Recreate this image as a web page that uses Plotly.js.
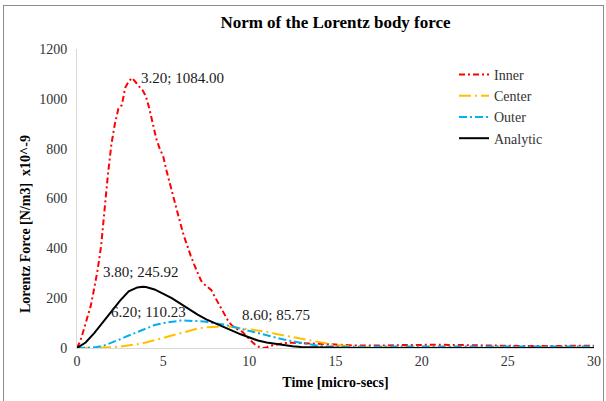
<!DOCTYPE html>
<html>
<head>
<meta charset="utf-8">
<script src="https://cdn.plot.ly/plotly-3.0.1.min.js"></script>
<style>
  html, body { margin: 0; padding: 0; background: #fff; }
  #wrap { position: relative; width: 606px; height: 401px; overflow: hidden; }
  #chart { width: 606px; height: 401px; }
  #frame { position: absolute; left: 3px; top: 5px; width: 601px; height: 400px; border: 1px solid #8c8c8c; pointer-events: none; box-sizing: border-box; }
</style>
</head>
<body>
<div id="wrap"><div id="chart"></div><div id="frame"></div></div>
<script>
// ---- data ----
const innerX = [0,0.2,0.4,0.6,0.8,1.0,1.2,1.4,1.6,1.8,2.0,2.2,2.4,2.6,2.8,3.0,3.2,3.4,3.6,3.8,4.0,4.2,4.4,4.6,4.8,5.0,5.2,5.4,5.6,5.8,6.0,6.2,6.4,6.6,6.8,7.0,7.2,7.4,7.6,7.8,8.0,8.2,8.4,8.6,8.8,9.0,9.2,9.4,9.6,9.8,10.0,10.2,10.4,10.6,10.8,11.0,11.2,11.6,12.0,12.5,13.0,13.5,14.0,14.5,15,16,17,18,19,20,21,22,23,24,25,26,27,28,29,30];
const innerY = [0,30,75,120,170,240,315,410,560,700,820,900,960,975,1045,1070,1084,1065,1050,1035,1010,960,905,840,800,770,710,655,600,545,500,450,405,370,335,300,270,255,245,232,205,180,150,125,105,90,79,72,65,50,35,22,10,3,0,2,8,15,20,21,20,20,18,16,14,10,9,10,12,14,13,12,12,10,9,8,8,9,10,9];

const centerX = [0,1,1.5,2,2.5,3,3.5,4,4.5,5,5.5,6,6.5,7,7.5,8,8.6,9,9.5,10,10.5,11,11.5,12,12.5,13,13.5,14,14.5,15,15.5,16,17,18,20,25,30];
const centerY = [0,0,1,3,6,10,15,22,30,40,50,60,70,78,83,85,85.75,84,80,76,71,65,57,50,43,36,30,24,18,13,9,6,4,3,2,2,2];

const outerX = [0,0.5,1,1.5,2,2.5,3,3.5,4,4.5,5,5.5,6,6.2,6.5,7,7.5,8,8.5,9,9.5,10,10.5,11,11.5,12,12.5,13,13.5,14,14.5,15,16,18,20,22,24,26,28,30];
const outerY = [0,0,2,8,20,35,50,63,78,92,100,106,110,110.23,110,108,105,100,94,86,77,70,60,51,41,34,27,20,14,9,6,5,5,6,6,5,6,6,5,6];

const analyticX = [0,0.5,1,1.5,2,2.5,3,3.5,3.8,4,4.5,5,5.5,6,6.5,7,7.5,8,8.5,9,9.5,10,10.5,11,11.5,12,12.5,13,14,15,16,20,25,30];
const analyticY = [0,22,60,103,145,190,227,243,245.92,245,235,218,200,178,155,134,115,99,84,70,55,41,30,22,16,11,7,4,2,0.5,0,0,0,0];

const seriesNames = ["Inner","Center","Outer","Analytic"];
const peakLabels = [
  {x:3.2, y:1084.00, text:"3.20; 1084.00"},
  {x:3.8, y:245.92, text:"3.80; 245.92"},
  {x:6.2, y:110.23, text:"6.20; 110.23"},
  {x:8.6, y:85.75, text:"8.60; 85.75"}
];
const xTicks = [0,5,10,15,20,25,30];
const yTicks = [0,200,400,600,800,1000,1200];

// ---- chart ----
const serif = "'Liberation Serif', 'Times New Roman', serif";
const traces = [
  {x: innerX, y: innerY, name: seriesNames[0], mode: "lines",
   line: {color: "#ff0000", width: 2, dash: "6px,3px,2px,3px"}},
  {x: centerX, y: centerY, name: seriesNames[1], mode: "lines",
   line: {color: "#ffc000", width: 2, dash: "12px,4px,2px,4px"}},
  {x: outerX, y: outerY, name: seriesNames[2], mode: "lines",
   line: {color: "#00b0f0", width: 2, dash: "8px,3px,2px,3px"}},
  {x: analyticX, y: analyticY, name: seriesNames[3], mode: "lines",
   line: {color: "#000000", width: 2}}
];

const M = {l: 77, r: 12, t: 49, b: 53};
const W = 606, H = 401;
const pw = W - M.l - M.r, ph = H - M.t - M.b;

const shifts = [
  {xanchor: "left", xshift: 7, yshift: 0},
  {xanchor: "center", xshift: -2, yshift: 15},
  {xanchor: "right", xshift: 4, yshift: 9},
  {xanchor: "left", xshift: 15, yshift: 12}
];
const annotations = peakLabels.map((p, i) => ({
  x: p.x, y: p.y, xref: "x", yref: "y", text: p.text, showarrow: false,
  xanchor: shifts[i].xanchor, yanchor: "middle",
  xshift: shifts[i].xshift, yshift: shifts[i].yshift,
  font: {family: serif, size: 15, color: "#1a1a1a"}
}));
annotations.push({
  xref: "paper", yref: "paper",
  x: (25 - M.l) / pw, y: (H - M.b - 224) / ph,
  text: "<b>Lorentz Force [N/m3]  x10^-9</b>", textangle: -90, showarrow: false,
  xanchor: "center", yanchor: "middle",
  font: {family: serif, size: 14, color: "#000"}
});

const layout = {
  width: W, height: H,
  margin: M,
  paper_bgcolor: "#fff", plot_bgcolor: "#fff",
  title: {text: "<b>Norm of the Lorentz body force</b>", x: 0.5, xref: "paper", y: 0.945, yanchor: "middle",
          font: {family: serif, size: 17, color: "#000"}},
  xaxis: {range: [0, 30], tickvals: xTicks, ticktext: xTicks.map(String), showgrid: false, zeroline: false,
          showline: true, linecolor: "#d9d9d9", linewidth: 1, ticks: "",
          tickfont: {family: serif, size: 14, color: "#333"},
          title: {text: "<b>Time [micro-secs]</b>", standoff: 9, font: {family: serif, size: 14, color: "#000"}}},
  yaxis: {range: [0, 1200], tickvals: yTicks, ticktext: yTicks.map(String), showgrid: false, zeroline: false,
          showline: true, linecolor: "#d9d9d9", linewidth: 1, ticks: "", ticklabelstandoff: 6,
          tickfont: {family: serif, size: 14, color: "#333"}},
  legend: {x: (454 - M.l) / pw, y: (H - M.b - 59) / ph, xanchor: "left", yanchor: "top",
           bgcolor: "rgba(0,0,0,0)", font: {family: serif, size: 14, color: "#333"}, itemwidth: 30},
  showlegend: true,
  annotations: annotations
};

Plotly.newPlot("chart", traces, layout, {displayModeBar: false, staticPlot: true});
</script>
</body>
</html>
